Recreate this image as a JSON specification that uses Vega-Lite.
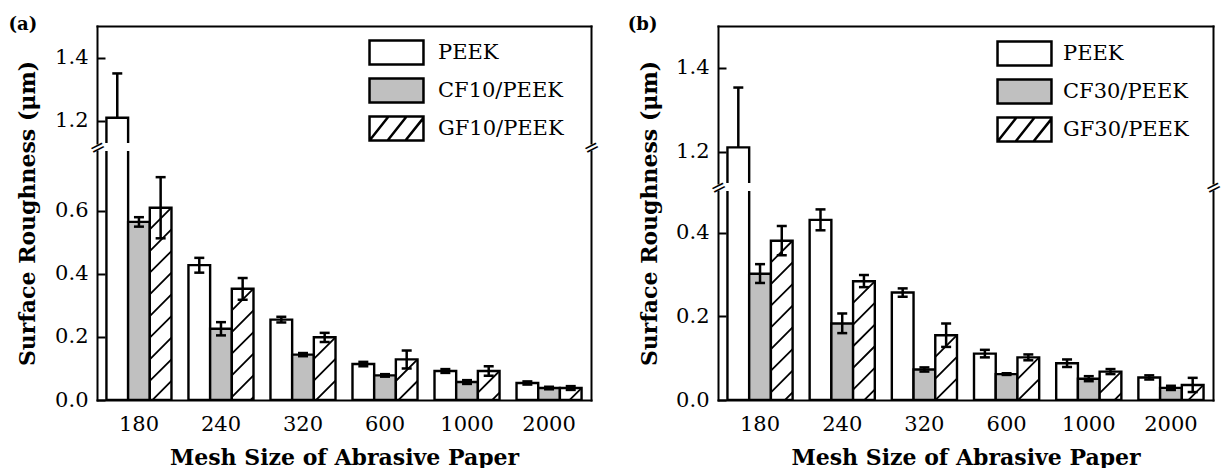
{
  "$schema": "https://vega.github.io/schema/vega-lite/v6.json",
  "padding": {"left": 8, "top": 15, "right": 0, "bottom": 0},
  "datasets": {
    "a": [
      {"mesh": "180", "material": "PEEK", "v": 1.21, "lo": 1.07, "hi": 1.35},
      {"mesh": "180", "material": "CF10/PEEK", "v": 0.565, "lo": 0.55, "hi": 0.58},
      {"mesh": "180", "material": "GF10/PEEK", "v": 0.61, "lo": 0.513, "hi": 0.707},
      {"mesh": "240", "material": "PEEK", "v": 0.428, "lo": 0.404, "hi": 0.451},
      {"mesh": "240", "material": "CF10/PEEK", "v": 0.226, "lo": 0.205, "hi": 0.247},
      {"mesh": "240", "material": "GF10/PEEK", "v": 0.353, "lo": 0.318, "hi": 0.387},
      {"mesh": "320", "material": "PEEK", "v": 0.255, "lo": 0.246, "hi": 0.264},
      {"mesh": "320", "material": "CF10/PEEK", "v": 0.144, "lo": 0.139, "hi": 0.149},
      {"mesh": "320", "material": "GF10/PEEK", "v": 0.199, "lo": 0.184, "hi": 0.213},
      {"mesh": "600", "material": "PEEK", "v": 0.114, "lo": 0.107, "hi": 0.121},
      {"mesh": "600", "material": "CF10/PEEK", "v": 0.078, "lo": 0.074, "hi": 0.082},
      {"mesh": "600", "material": "GF10/PEEK", "v": 0.129, "lo": 0.1, "hi": 0.157},
      {"mesh": "1000", "material": "PEEK", "v": 0.092, "lo": 0.086, "hi": 0.098},
      {"mesh": "1000", "material": "CF10/PEEK", "v": 0.057, "lo": 0.051, "hi": 0.063},
      {"mesh": "1000", "material": "GF10/PEEK", "v": 0.092, "lo": 0.077, "hi": 0.107},
      {"mesh": "2000", "material": "PEEK", "v": 0.054, "lo": 0.049, "hi": 0.059},
      {"mesh": "2000", "material": "CF10/PEEK", "v": 0.038, "lo": 0.034, "hi": 0.042},
      {"mesh": "2000", "material": "GF10/PEEK", "v": 0.038, "lo": 0.032, "hi": 0.044}
    ],
    "b": [
      {"mesh": "180", "material": "PEEK", "v": 1.21, "lo": 1.067, "hi": 1.353},
      {"mesh": "180", "material": "CF30/PEEK", "v": 0.302, "lo": 0.28, "hi": 0.325},
      {"mesh": "180", "material": "GF30/PEEK", "v": 0.381, "lo": 0.346, "hi": 0.416},
      {"mesh": "240", "material": "PEEK", "v": 0.431, "lo": 0.406, "hi": 0.456},
      {"mesh": "240", "material": "CF30/PEEK", "v": 0.183, "lo": 0.16, "hi": 0.207},
      {"mesh": "240", "material": "GF30/PEEK", "v": 0.284, "lo": 0.27, "hi": 0.299},
      {"mesh": "320", "material": "PEEK", "v": 0.257, "lo": 0.247, "hi": 0.267},
      {"mesh": "320", "material": "CF30/PEEK", "v": 0.073, "lo": 0.068, "hi": 0.078},
      {"mesh": "320", "material": "GF30/PEEK", "v": 0.155, "lo": 0.127, "hi": 0.183},
      {"mesh": "600", "material": "PEEK", "v": 0.111, "lo": 0.102, "hi": 0.12},
      {"mesh": "600", "material": "CF30/PEEK", "v": 0.062, "lo": 0.06, "hi": 0.064},
      {"mesh": "600", "material": "GF30/PEEK", "v": 0.102, "lo": 0.095, "hi": 0.109},
      {"mesh": "1000", "material": "PEEK", "v": 0.088, "lo": 0.079, "hi": 0.097},
      {"mesh": "1000", "material": "CF30/PEEK", "v": 0.051, "lo": 0.045, "hi": 0.057},
      {"mesh": "1000", "material": "GF30/PEEK", "v": 0.068, "lo": 0.062, "hi": 0.074},
      {"mesh": "2000", "material": "PEEK", "v": 0.054, "lo": 0.049, "hi": 0.059},
      {"mesh": "2000", "material": "CF30/PEEK", "v": 0.029, "lo": 0.024, "hi": 0.034},
      {"mesh": "2000", "material": "GF30/PEEK", "v": 0.036, "lo": 0.019, "hi": 0.053}
    ]
  },
  "spacing": 24,
  "hconcat": [
    {
      "spacing": 8,
      "bounds": "flush",
      "resolve": {"scale": {"x": "independent", "y": "independent", "xOffset": "independent", "fill": "independent", "shape": "independent", "stroke": "independent"}, "axis": {"x": "independent", "y": "independent"}, "legend": {"fill": "independent", "shape": "independent", "stroke": "independent"}},
      "vconcat": [
        {
          "width": 494, "height": 117,
          "data": {"name": "a"},
          "encoding": {
            "x": {"field": "mesh", "type": "nominal", "scale": {"domain": ["180", "240", "320", "600", "1000", "2000"], "paddingInner": 0.207, "paddingOuter": 0.115},
                  "axis": {"orient": "top", "labels": false, "ticks": false, "domain": true, "title": "(a)", "titleX": -89, "titleY": -2, "titleAlign": "left", "titleBaseline": "middle", "titleAngle": 0, "titleFontSize": 18, "titleFontWeight": "bold"}},
            "xOffset": {"field": "material", "type": "nominal", "scale": {"domain": ["PEEK", "CF10/PEEK", "GF10/PEEK"], "paddingInner": 0, "paddingOuter": 0}}
          },
          "resolve": {"axis": {"y": "independent"}},
          "layer": [
            {"mark": {"type": "rule", "clip": true, "strokeWidth": 2.5, "color": "black"},
             "encoding": {"y": {"field": "lo", "type": "quantitative", "scale": {"domain": [1.13, 1.5]}, "axis": null}, "y2": {"field": "hi"}}},
            {"mark": {"type": "tick", "clip": true, "size": 10, "thickness": 2.5, "color": "black", "opacity": 1},
             "encoding": {"y": {"field": "hi", "type": "quantitative", "scale": {"domain": [1.13, 1.5]}, "axis": null}}},
            {"mark": {"type": "bar", "clip": true, "stroke": "black", "strokeWidth": 2.4},
             "encoding": {
               "y": {"field": "v", "type": "quantitative", "scale": {"domain": [1.13, 1.5]}, "axis": {"orient": "left", "values": [1.2, 1.4], "format": ".1f", "tickSize": -8, "labelPadding": 17, "title": null}},
               "fill": {"condition": {"test": "indexof(datum.material, 'CF') == 0", "value": "#c0c0c0"}, "value": "white"}}},
            {"mark": {"type": "point", "filled": true, "opacity": 1, "strokeWidth": 2.5, "clip": true},
             "encoding": {
               "y": {"field": "lo", "type": "quantitative", "scale": {"domain": [1.13, 1.5]}, "axis": {"orient": "right", "labels": false, "ticks": false, "domain": true, "title": null}},
               "fill": {"field": "material", "type": "nominal", "scale": {"domain": ["PEEK", "CF10/PEEK", "GF10/PEEK"], "range": ["white", "#c0c0c0", "white"]},
                        "legend": {"orient": "none", "legendX": 279, "legendY": 6, "title": null, "padding": 0, "rowPadding": 0, "labelOffset": 21, "symbolSize": 1444, "symbolStrokeWidth": 2.5, "symbolOpacity": 1, "labelFont": "DejaVu Serif", "labelFontSize": 21, "labelColor": "black", "labelLimit": 300}},
               "stroke": {"field": "material", "type": "nominal", "scale": {"domain": ["PEEK", "CF10/PEEK", "GF10/PEEK"], "range": ["black", "black", "black"]},
                        "legend": {"orient": "none", "legendX": 279, "legendY": 6, "title": null, "padding": 0, "rowPadding": 0, "labelOffset": 21, "symbolSize": 1444, "symbolStrokeWidth": 2.5, "symbolOpacity": 1, "labelFont": "DejaVu Serif", "labelFontSize": 21, "labelColor": "black", "labelLimit": 300}},
               "shape": {"field": "material", "type": "nominal", "scale": {"domain": ["PEEK", "CF10/PEEK", "GF10/PEEK"], "range": ["M-1.42,-0.63L1.42,-0.63L1.42,0.63L-1.42,0.63Z", "M-1.42,-0.63L1.42,-0.63L1.42,0.63L-1.42,0.63Z", "M-1.42,-0.63L1.42,-0.63L1.42,0.63L-1.42,0.63ZM-1.42,0.63L-0.42,-0.63M-0.47,0.63L0.53,-0.63M0.47,0.63L1.42,-0.56"]},
                        "legend": {"orient": "none", "legendX": 279, "legendY": 6, "title": null, "padding": 0, "rowPadding": 0, "labelOffset": 21, "symbolSize": 1444, "symbolStrokeWidth": 2.5, "symbolOpacity": 1, "labelFont": "DejaVu Serif", "labelFontSize": 21, "labelColor": "black", "labelLimit": 300}}}}
          ]
        },
        {
          "width": 494, "height": 249,
          "data": {"name": "a"},
          "encoding": {
            "x": {"field": "mesh", "type": "nominal", "scale": {"domain": ["180", "240", "320", "600", "1000", "2000"], "paddingInner": 0.207, "paddingOuter": 0.115},
                  "axis": {"orient": "bottom", "ticks": false, "labelAngle": 0, "labelPadding": 13, "title": "Mesh Size of Abrasive Paper", "titlePadding": 13}},
            "xOffset": {"field": "material", "type": "nominal", "scale": {"domain": ["PEEK", "CF10/PEEK", "GF10/PEEK"], "paddingInner": 0, "paddingOuter": 0}}
          },
          "resolve": {"axis": {"y": "independent"}},
          "layer": [
            {"mark": {"type": "bar", "clip": true, "stroke": "black", "strokeWidth": 2.4},
             "encoding": {
               "y": {"field": "v", "type": "quantitative", "scale": {"domain": [0, 0.79]}, "axis": {"orient": "left", "values": [0, 0.2, 0.4, 0.6], "format": ".1f", "tickSize": -8, "labelPadding": 17, "title": "Surface Roughness (μm)", "titleX": -57.7, "titleY": 62, "titleAngle": -90, "titleAlign": "center", "titleBaseline": "bottom"}},
               "fill": {"condition": {"test": "indexof(datum.material, 'CF') == 0", "value": "#c0c0c0"}, "value": "white"}}},
            {"transform": [{"filter": "indexof(datum.material, 'GF') == 0"}],
             "mark": {"type": "point", "clip": true, "filled": false, "opacity": 1, "stroke": "black", "strokeWidth": 1.8, "size": 469,
                      "shape": "M-1,2L1,0M-1,4L1,2M-1,6L1,4M-1,8L1,6M-1,10L1,8M-1,12L1,10M-1,14L1,12M-1,16L1,14M-1,18L1,16M-1,20L1,18M-1,22L1,20"},
             "encoding": {"y": {"field": "v", "type": "quantitative", "scale": {"domain": [0, 0.79]},
                                "axis": {"orient": "right", "values": [0.79], "domain": true, "ticks": false, "labelExpr": "'='", "labelAngle": -27, "labelAlign": "center", "labelBaseline": "middle", "labelPadding": 0, "labelOffset": -4, "labelFont": "DejaVu Sans", "labelFontSize": 19, "title": null}}}},
            {"mark": {"type": "rule", "clip": true, "strokeWidth": 2.5, "color": "black"},
             "encoding": {"y": {"field": "lo", "type": "quantitative", "scale": {"domain": [0, 0.79]},
                                "axis": {"orient": "left", "values": [0.79], "domain": false, "ticks": false, "labelExpr": "'='", "labelAngle": -27, "labelAlign": "center", "labelBaseline": "middle", "labelPadding": 0, "labelOffset": -4, "labelFont": "DejaVu Sans", "labelFontSize": 19, "title": null}},
                          "y2": {"field": "hi"}}},
            {"mark": {"type": "tick", "clip": true, "size": 10, "thickness": 2.5, "color": "black", "opacity": 1},
             "encoding": {"y": {"field": "hi", "type": "quantitative", "scale": {"domain": [0, 0.79]}, "axis": null}}},
            {"mark": {"type": "tick", "clip": true, "size": 10, "thickness": 2.5, "color": "black", "opacity": 1},
             "encoding": {"y": {"field": "lo", "type": "quantitative", "scale": {"domain": [0, 0.79]}, "axis": null}}}
          ]
        }
      ]
    },
    {
      "spacing": 8,
      "bounds": "flush",
      "resolve": {"scale": {"x": "independent", "y": "independent", "xOffset": "independent", "fill": "independent", "shape": "independent", "stroke": "independent"}, "axis": {"x": "independent", "y": "independent"}, "legend": {"fill": "independent", "shape": "independent", "stroke": "independent"}},
      "vconcat": [
        {
          "width": 495, "height": 157,
          "data": {"name": "b"},
          "encoding": {
            "x": {"field": "mesh", "type": "nominal", "scale": {"domain": ["180", "240", "320", "600", "1000", "2000"], "paddingInner": 0.207, "paddingOuter": 0.115},
                  "axis": {"orient": "top", "labels": false, "ticks": false, "domain": true, "title": "(b)", "titleX": -90.7, "titleY": -2, "titleAlign": "left", "titleBaseline": "middle", "titleAngle": 0, "titleFontSize": 18, "titleFontWeight": "bold"}},
            "xOffset": {"field": "material", "type": "nominal", "scale": {"domain": ["PEEK", "CF30/PEEK", "GF30/PEEK"], "paddingInner": 0, "paddingOuter": 0}}
          },
          "resolve": {"axis": {"y": "independent"}},
          "layer": [
            {"mark": {"type": "rule", "clip": true, "strokeWidth": 2.5, "color": "black"},
             "encoding": {"y": {"field": "lo", "type": "quantitative", "scale": {"domain": [1.125, 1.5]}, "axis": null}, "y2": {"field": "hi"}}},
            {"mark": {"type": "tick", "clip": true, "size": 10, "thickness": 2.5, "color": "black", "opacity": 1},
             "encoding": {"y": {"field": "hi", "type": "quantitative", "scale": {"domain": [1.125, 1.5]}, "axis": null}}},
            {"mark": {"type": "bar", "clip": true, "stroke": "black", "strokeWidth": 2.4},
             "encoding": {
               "y": {"field": "v", "type": "quantitative", "scale": {"domain": [1.125, 1.5]}, "axis": {"orient": "left", "values": [1.2, 1.4], "format": ".1f", "tickSize": -8, "labelPadding": 17, "title": null}},
               "fill": {"condition": {"test": "indexof(datum.material, 'CF') == 0", "value": "#c0c0c0"}, "value": "white"}}},
            {"mark": {"type": "point", "filled": true, "opacity": 1, "strokeWidth": 2.5, "clip": true},
             "encoding": {
               "y": {"field": "lo", "type": "quantitative", "scale": {"domain": [1.125, 1.5]}, "axis": {"orient": "right", "labels": false, "ticks": false, "domain": true, "title": null}},
               "fill": {"field": "material", "type": "nominal", "scale": {"domain": ["PEEK", "CF30/PEEK", "GF30/PEEK"], "range": ["white", "#c0c0c0", "white"]},
                        "legend": {"orient": "none", "legendX": 286, "legendY": 7, "title": null, "padding": 0, "rowPadding": 0, "labelOffset": 18, "symbolSize": 1444, "symbolStrokeWidth": 2.5, "symbolOpacity": 1, "labelFont": "DejaVu Serif", "labelFontSize": 21, "labelColor": "black", "labelLimit": 300}},
               "stroke": {"field": "material", "type": "nominal", "scale": {"domain": ["PEEK", "CF30/PEEK", "GF30/PEEK"], "range": ["black", "black", "black"]},
                        "legend": {"orient": "none", "legendX": 286, "legendY": 7, "title": null, "padding": 0, "rowPadding": 0, "labelOffset": 18, "symbolSize": 1444, "symbolStrokeWidth": 2.5, "symbolOpacity": 1, "labelFont": "DejaVu Serif", "labelFontSize": 21, "labelColor": "black", "labelLimit": 300}},
               "shape": {"field": "material", "type": "nominal", "scale": {"domain": ["PEEK", "CF30/PEEK", "GF30/PEEK"], "range": ["M-1.42,-0.63L1.42,-0.63L1.42,0.63L-1.42,0.63Z", "M-1.42,-0.63L1.42,-0.63L1.42,0.63L-1.42,0.63Z", "M-1.42,-0.63L1.42,-0.63L1.42,0.63L-1.42,0.63ZM-1.42,0.63L-0.42,-0.63M-0.47,0.63L0.53,-0.63M0.47,0.63L1.42,-0.56"]},
                        "legend": {"orient": "none", "legendX": 286, "legendY": 7, "title": null, "padding": 0, "rowPadding": 0, "labelOffset": 18, "symbolSize": 1444, "symbolStrokeWidth": 2.5, "symbolOpacity": 1, "labelFont": "DejaVu Serif", "labelFontSize": 21, "labelColor": "black", "labelLimit": 300}}}}
          ]
        },
        {
          "width": 495, "height": 209,
          "data": {"name": "b"},
          "encoding": {
            "x": {"field": "mesh", "type": "nominal", "scale": {"domain": ["180", "240", "320", "600", "1000", "2000"], "paddingInner": 0.207, "paddingOuter": 0.115},
                  "axis": {"orient": "bottom", "ticks": false, "labelAngle": 0, "labelPadding": 13, "title": "Mesh Size of Abrasive Paper", "titlePadding": 13}},
            "xOffset": {"field": "material", "type": "nominal", "scale": {"domain": ["PEEK", "CF30/PEEK", "GF30/PEEK"], "paddingInner": 0, "paddingOuter": 0}}
          },
          "resolve": {"axis": {"y": "independent"}},
          "layer": [
            {"mark": {"type": "bar", "clip": true, "stroke": "black", "strokeWidth": 2.4},
             "encoding": {
               "y": {"field": "v", "type": "quantitative", "scale": {"domain": [0, 0.5]}, "axis": {"orient": "left", "values": [0, 0.2, 0.4], "format": ".1f", "tickSize": -8, "labelPadding": 17, "title": "Surface Roughness (μm)", "titleX": -56.7, "titleY": 22, "titleAngle": -90, "titleAlign": "center", "titleBaseline": "bottom"}},
               "fill": {"condition": {"test": "indexof(datum.material, 'CF') == 0", "value": "#c0c0c0"}, "value": "white"}}},
            {"transform": [{"filter": "indexof(datum.material, 'GF') == 0"}],
             "mark": {"type": "point", "clip": true, "filled": false, "opacity": 1, "stroke": "black", "strokeWidth": 1.8, "size": 469,
                      "shape": "M-1,2L1,0M-1,4L1,2M-1,6L1,4M-1,8L1,6M-1,10L1,8M-1,12L1,10M-1,14L1,12M-1,16L1,14M-1,18L1,16M-1,20L1,18M-1,22L1,20"},
             "encoding": {"y": {"field": "v", "type": "quantitative", "scale": {"domain": [0, 0.5]},
                                "axis": {"orient": "right", "values": [0.5], "domain": true, "ticks": false, "labelExpr": "'='", "labelAngle": -27, "labelAlign": "center", "labelBaseline": "middle", "labelPadding": 0, "labelOffset": -4, "labelFont": "DejaVu Sans", "labelFontSize": 19, "title": null}}}},
            {"mark": {"type": "rule", "clip": true, "strokeWidth": 2.5, "color": "black"},
             "encoding": {"y": {"field": "lo", "type": "quantitative", "scale": {"domain": [0, 0.5]},
                                "axis": {"orient": "left", "values": [0.5], "domain": false, "ticks": false, "labelExpr": "'='", "labelAngle": -27, "labelAlign": "center", "labelBaseline": "middle", "labelPadding": 0, "labelOffset": -4, "labelFont": "DejaVu Sans", "labelFontSize": 19, "title": null}},
                          "y2": {"field": "hi"}}},
            {"mark": {"type": "tick", "clip": true, "size": 10, "thickness": 2.5, "color": "black", "opacity": 1},
             "encoding": {"y": {"field": "hi", "type": "quantitative", "scale": {"domain": [0, 0.5]}, "axis": null}}},
            {"mark": {"type": "tick", "clip": true, "size": 10, "thickness": 2.5, "color": "black", "opacity": 1},
             "encoding": {"y": {"field": "lo", "type": "quantitative", "scale": {"domain": [0, 0.5]}, "axis": null}}}
          ]
        }
      ]
    }
  ],
  "config": {
    "view": {"stroke": null},
    "font": "DejaVu Serif",
    "axis": {"domainColor": "black", "domainWidth": 2, "domainCap": "square", "tickColor": "black", "tickWidth": 2, "labelColor": "black", "titleColor": "black", "labelFont": "DejaVu Serif", "titleFont": "DejaVu Serif", "labelFontSize": 21, "titleFontSize": 22, "titleFontWeight": "bold", "grid": false}
  }
}
